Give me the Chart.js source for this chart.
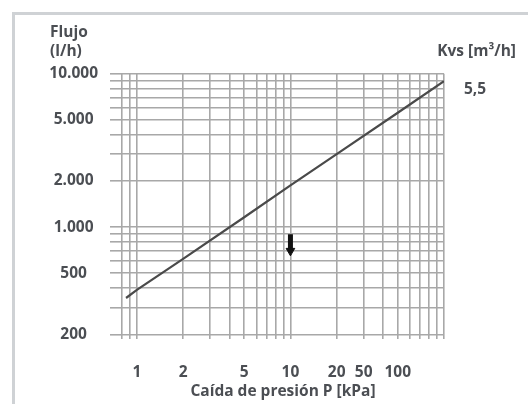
<!DOCTYPE html>
<html>
<head>
<meta charset="utf-8">
<script src="https://cdn.jsdelivr.net/npm/chart.js@4.4.1/dist/chart.umd.min.js"></script>
<style>
  html, body { margin: 0; padding: 0; background: #fff; overflow: hidden; }
  #frame {
    position: absolute; left: 12px; top: 12px; width: 600px; height: 500px;
    border-left: 3px solid #cfd2d5; border-top: 3px solid #cfd2d5;
  }
  #wrap { position: absolute; left: 0; top: 0; width: 528px; height: 404px; }
</style>
</head>
<body>
<div id="frame"></div>
<div id="wrap"><canvas id="chart" width="528" height="404"></canvas></div>
<script>
// Pressure drop vs flow, Kvs 5,5 — log/log
const pressureKPa = [0.85, 1, 2, 5, 10, 20, 50, 100];
const flowLh      = [345, 390, 620, 1160, 1870, 2990, 5570, 8950];

// small down-arrow marker at 10 kPa
const arrowX = [10, 10];
const arrowY = [900, 700];

const kvsTitle = 'Kvs [m³/h]';
const kvsValue = '5,5';

// grid lines (log minor divisions)
const xGrid = [0.8, 0.9, 1, 2, 3, 4, 5, 6, 7, 8, 9, 10, 20, 30, 40, 50, 60, 70, 80, 90, 100];
const yGrid = [200, 300, 400, 500, 600, 700, 800, 900, 1000, 2000, 3000, 4000, 5000, 6000, 7000, 8000, 9000, 10000];

// tick labels, and the grid lines they sit on in the source chart
const xTickAt     = [1, 2, 5, 10, 20, 30, 50];
const xTickLabels = ['1', '2', '5', '10', '20', '50', '100'];
const yTickAt     = [200, 500, 1000, 2000, 5000, 10000];
const yTickLabels = ['200', '500', '1.000', '2.000', '5.000', '10.000'];

const TXT  = '#4b4e53';
const GRID = '#a8a8a8';
const FONT = "'Open Sans', 'DejaVu Sans', sans-serif";
const FS   = 15.5;

const sideText = {
  id: 'sideText',
  afterDraw(chart) {
    const { ctx, chartArea } = chart;
    const meta = chart.getDatasetMeta(0);
    const last = meta.data[meta.data.length - 1];
    ctx.save();
    ctx.fillStyle = TXT;
    ctx.font = 'bold ' + FS + 'px ' + FONT;
    ctx.textBaseline = 'middle';
    ctx.textAlign = 'right';
    ctx.fillText(kvsTitle, chartArea.right + 72, 52);
    ctx.textAlign = 'center';
    ctx.fillText(kvsValue, last.x + 31, last.y + 8);
    ctx.restore();
  }
};

new Chart(document.getElementById('chart'), {
  type: 'line',
  data: {
    datasets: [
      {
        data: pressureKPa.map((p, i) => ({ x: p, y: flowLh[i] })),
        borderColor: '#4a4a4a',
        borderWidth: 2.2,
        pointRadius: 0,
        tension: 0,
      },
      {
        data: arrowX.map((p, i) => ({ x: p, y: arrowY[i] })),
        borderColor: '#111',
        borderWidth: 5,
        pointRadius: [0, 5],
        pointStyle: 'triangle',
        rotation: 180,
        pointBackgroundColor: '#111',
        pointBorderColor: '#111',
        pointBorderWidth: 1,
      }
    ]
  },
  options: {
    responsive: false,
    animation: false,
    layout: { padding: { left: 50, right: 84, top: 0, bottom: 0 } },
    plugins: {
      legend: { display: false },
      tooltip: { enabled: false },
      title: {
        display: true,
        text: ['Flujo', '(l/h)'],
        align: 'start',
        color: TXT,
        font: { family: FONT, size: FS, weight: 'bold', lineHeight: 1.25 },
        padding: { top: 23, bottom: 12 },
      }
    },
    scales: {
      x: {
        type: 'logarithmic',
        min: 0.8,
        max: 100,
        afterBuildTicks: s => { s.ticks = xGrid.map(v => ({ value: v })); },
        afterFit: s => { s.height = 68; },
        grid: { color: GRID, lineWidth: 1.6, tickLength: 3, tickColor: GRID },
        border: { display: false },
        ticks: {
          autoSkip: false, maxRotation: 0, padding: 24,
          color: TXT, font: { family: FONT, size: FS, weight: 'bold' },
          callback: v => { const i = xTickAt.indexOf(v); return i < 0 ? '' : xTickLabels[i]; }
        },
        title: {
          display: true,
          text: 'Caída de presión P [kPa]',
          color: TXT,
          font: { family: FONT, size: FS, weight: 'bold', lineHeight: 1.2 },
          padding: { top: 0, bottom: 3 },
        }
      },
      y: {
        type: 'logarithmic',
        min: 195,
        max: 10000,
        afterBuildTicks: s => { s.ticks = yGrid.map(v => ({ value: v })); },
        afterFit: s => { s.width = 122 - 50; },
        grid: { color: GRID, lineWidth: 1.6, tickLength: 12, tickColor: GRID },
        border: { display: false },
        ticks: {
          autoSkip: false, padding: 12, crossAlign: 'center',
          color: TXT, font: { family: FONT, size: FS, weight: 'bold' },
          callback: v => { const i = yTickAt.indexOf(v); return i < 0 ? '' : yTickLabels[i]; }
        }
      }
    }
  },
  plugins: [sideText]
});
</script>
</body>
</html>
